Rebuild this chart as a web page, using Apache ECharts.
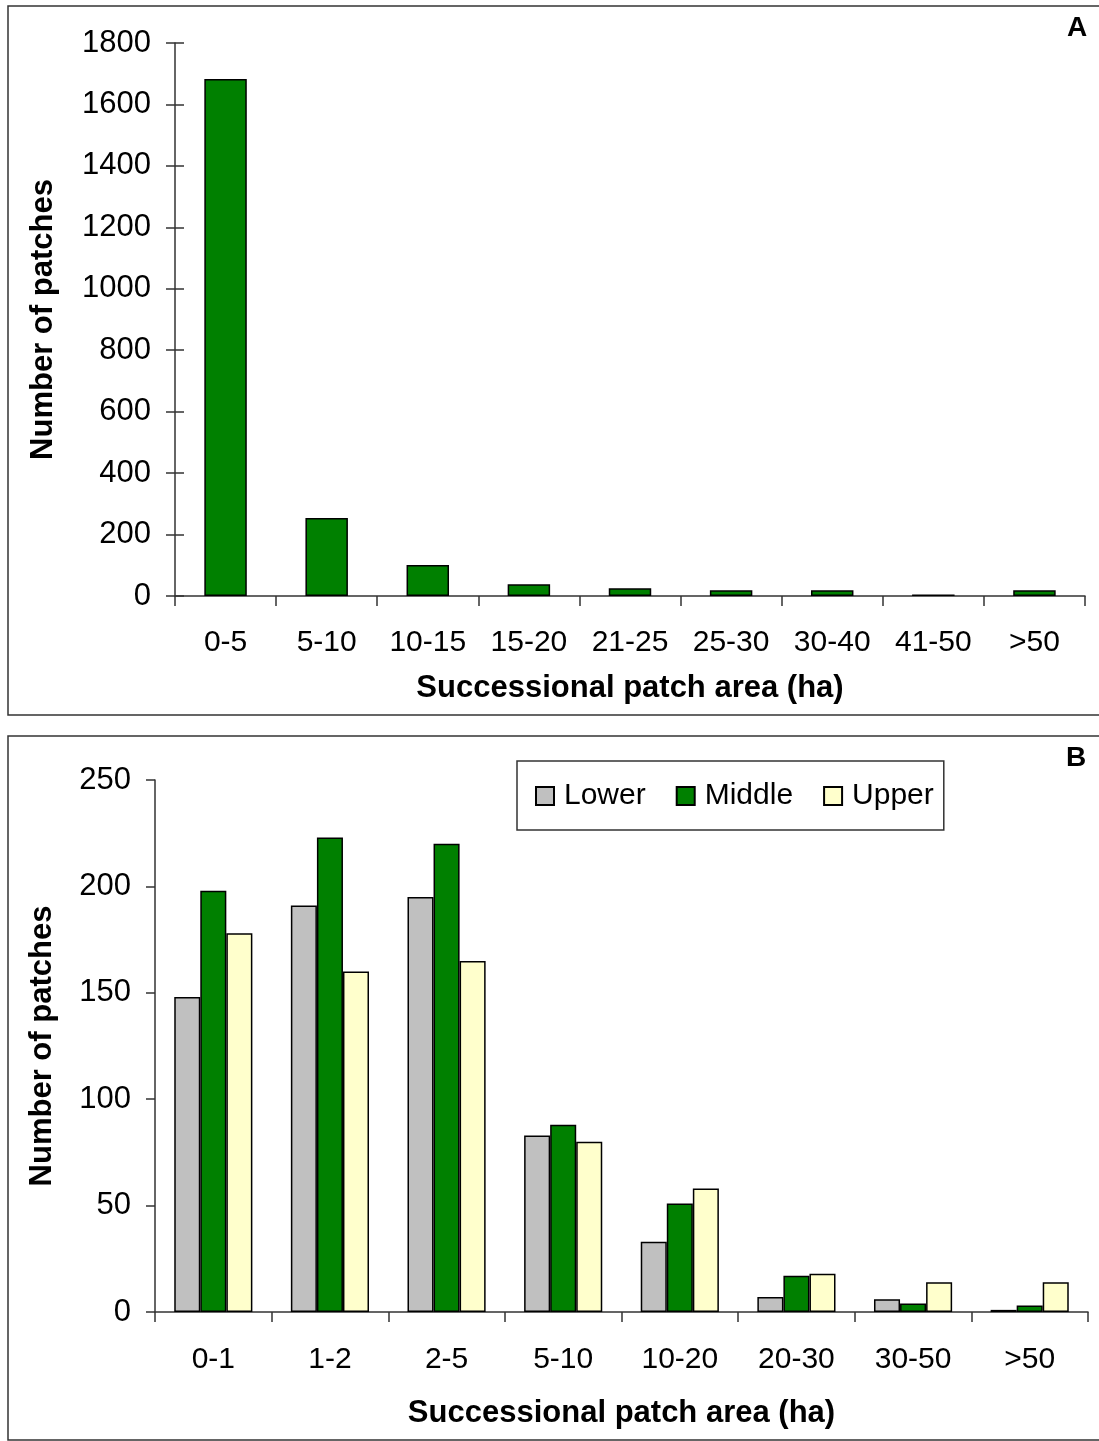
<!DOCTYPE html>
<html>
<head>
<meta charset="utf-8">
<title>Successional patch area</title>
<script src="https://cdn.jsdelivr.net/npm/echarts@6/dist/echarts.min.js"></script>
<style>
  html, body { margin: 0; padding: 0; background: #fff; }
  #main { width: 1099px; height: 1441px; }
</style>
</head>
<body>
<div id="main"></div>
<script>
// panel A data
var catsA = ['0-5', '5-10', '10-15', '15-20', '21-25', '25-30', '30-40', '41-50', '>50'];
var patchesA = [1683, 254, 101, 38, 25, 19, 19, 5, 19];

// panel B data
var catsB = ['0-1', '1-2', '2-5', '5-10', '10-20', '20-30', '30-50', '>50'];
var lowerB = [148, 191, 195, 83, 33, 7, 6, 1];
var middleB = [198, 223, 220, 88, 51, 17, 4, 3];
var upperB = [178, 160, 165, 80, 58, 18, 14, 14];

var ticksA = { min: 0, max: 1800, interval: 200 };
var ticksB = { min: 0, max: 250, interval: 50 };

var FONT = 'Liberation Sans, Arial, sans-serif';
var myChart = echarts.init(document.getElementById('main'));

function plain(v) { return String(v); }

function xAxisFor(idx, cats, margin, gap) {
    return {
        type: 'category', gridIndex: idx, data: cats,
        axisLine: { lineStyle: { color: '#333', width: 1.5 } },
        axisTick: { show: true, interval: 0, length: 10, lineStyle: { color: '#333', width: 1.5 } },
        axisLabel: { color: '#000', fontSize: 30, fontFamily: FONT, margin: margin, interval: 0 },
        name: 'Successional patch area (ha)', nameLocation: 'middle', nameGap: gap,
        nameTextStyle: { color: '#000', fontSize: 31, fontWeight: 'bold', fontFamily: FONT }
    };
}

var option = {
    animation: false,
    backgroundColor: '#fff',
    graphic: [
        { type: 'rect', shape: { x: 8, y: 6, width: 1100, height: 709 }, style: { fill: 'none', stroke: '#333', lineWidth: 1.5 } },
        { type: 'rect', shape: { x: 8, y: 736, width: 1100, height: 704 }, style: { fill: 'none', stroke: '#333', lineWidth: 1.5 } },
        { type: 'text', left: 1067, top: 14, style: { text: 'A', fontSize: 28, fontWeight: 'bold', fontFamily: FONT, fill: '#000' } },
        { type: 'text', left: 1066, top: 744, style: { text: 'B', fontSize: 28, fontWeight: 'bold', fontFamily: FONT, fill: '#000' } }
    ],
    legend: {
        data: ['Lower', 'Middle', 'Upper'],
        left: 517, top: 761,
        padding: [20, 10, 19, 18],
        icon: 'rect',
        itemWidth: 18, itemHeight: 18, itemGap: 30,
        borderColor: '#333', borderWidth: 1.5, backgroundColor: '#fff',
        textStyle: { color: '#000', fontSize: 30, fontFamily: FONT, padding: [0, 0, 0, 5] }
    },
    grid: [
        { left: 175, top: 43, width: 910, height: 553 },
        { left: 155, top: 780, width: 933, height: 532 }
    ],
    xAxis: [
        xAxisFor(0, catsA, 32, 77),
        xAxisFor(1, catsB, 33, 86)
    ],
    yAxis: [
        {
            type: 'value', gridIndex: 0, min: ticksA.min, max: ticksA.max, interval: ticksA.interval,
            splitLine: { show: false },
            axisLine: { show: true, lineStyle: { color: '#333', width: 1.5 } },
            axisTick: { show: true, length: 9, lineStyle: { color: '#333', width: 1.5 } },
            axisLabel: { color: '#000', fontSize: 31, fontFamily: FONT, margin: 24, formatter: plain },
            name: 'Number of patches', nameLocation: 'middle', nameGap: 116,
            nameTextStyle: { color: '#000', fontSize: 31, fontWeight: 'bold', fontFamily: FONT }
        },
        {
            // inner half of the crossing ticks on panel A
            type: 'value', gridIndex: 0, min: ticksA.min, max: ticksA.max, interval: ticksA.interval,
            position: 'left', splitLine: { show: false },
            axisLine: { show: false },
            axisTick: { show: true, inside: true, length: 9, lineStyle: { color: '#333', width: 1.5 } },
            axisLabel: { show: false }
        },
        {
            type: 'value', gridIndex: 1, min: ticksB.min, max: ticksB.max, interval: ticksB.interval,
            splitLine: { show: false },
            axisLine: { show: true, lineStyle: { color: '#333', width: 1.5 } },
            axisTick: { show: true, length: 9, lineStyle: { color: '#333', width: 1.5 } },
            axisLabel: { color: '#000', fontSize: 31, fontFamily: FONT, margin: 24, formatter: plain },
            name: 'Number of patches', nameLocation: 'middle', nameGap: 97,
            nameTextStyle: { color: '#000', fontSize: 31, fontWeight: 'bold', fontFamily: FONT }
        }
    ],
    series: [
        {
            name: 'All', type: 'bar', xAxisIndex: 0, yAxisIndex: 0, data: patchesA,
            barCategoryGap: '58%',
            itemStyle: { color: '#008000', borderColor: '#000', borderWidth: 1.5 }
        },
        {
            name: 'Lower', type: 'bar', xAxisIndex: 1, yAxisIndex: 2, data: lowerB,
            barGap: '0%', barCategoryGap: '33%',
            itemStyle: { color: '#C0C0C0', borderColor: '#000', borderWidth: 1.5 }
        },
        {
            name: 'Middle', type: 'bar', xAxisIndex: 1, yAxisIndex: 2, data: middleB,
            barGap: '0%', barCategoryGap: '33%',
            itemStyle: { color: '#008000', borderColor: '#000', borderWidth: 1.5 }
        },
        {
            name: 'Upper', type: 'bar', xAxisIndex: 1, yAxisIndex: 2, data: upperB,
            barGap: '0%', barCategoryGap: '33%',
            itemStyle: { color: '#FFFFCC', borderColor: '#000', borderWidth: 1.5 }
        }
    ]
};

myChart.setOption(option);
</script>
</body>
</html>
